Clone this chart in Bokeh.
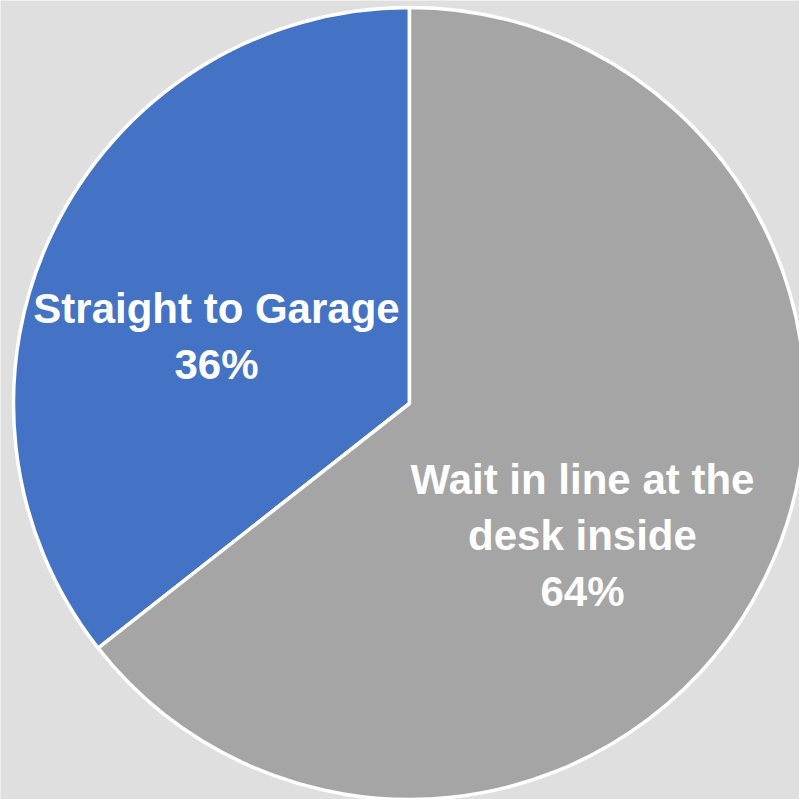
import math
from bokeh.plotting import figure
from bokeh.models import ColumnDataSource
from bokeh.core.properties import value
from bokeh.embed import file_html
from bokeh.resources import INLINE

# ---- data ----
categories = ["Straight to Garage", "Wait in line at the\ndesk inside"]
shares = [35.6, 64.4]
pct_labels = ["36%", "64%"]
colors = ["#4472C4", "#A5A5A5"]

# ---- layout ----
W = H = 799
cx, cy, R = 409, 396, 396
# label offsets from pie centre (pixels, y up)
label_off = [(-193, 67), (173, -132)]

# wedges: blue goes anticlockwise from 12 o'clock, grey fills the rest
total = sum(shares)
starts, ends = [], []
a = math.pi / 2
for s in shares:
    starts.append(a)
    a += 2 * math.pi * s / total
    ends.append(a)

src = ColumnDataSource(dict(
    x=[cx] * len(shares), y=[cy] * len(shares),
    start=starts, end=ends, color=colors,
))

p = figure(width=W, height=H, x_range=(0, W), y_range=(0, H),
           output_backend="svg", toolbar_location=None,
           min_border=0, background_fill_color="#DFDFDF",
           border_fill_color="#DFDFDF", outline_line_color=None)
p.axis.visible = False
p.grid.visible = False

p.wedge(x="x", y="y", radius=R, start_angle="start", end_angle="end",
        fill_color="color", line_color="white", line_width=3.5, source=src)

labels = [f"{c}\n{s}" for c, s in zip(categories, pct_labels)]
lsrc = ColumnDataSource(dict(
    x=[cx + d[0] for d in label_off],
    y=[cy + d[1] for d in label_off],
    text=labels,
))
p.text(x="x", y="y", text="text", source=lsrc,
       text_font=value("Liberation Sans"), text_font_style="bold",
       text_font_size="42px", text_color="white",
       text_align="center", text_baseline="middle", text_line_height=1.2)

open("out.html", "w").write(file_html(p, INLINE))
